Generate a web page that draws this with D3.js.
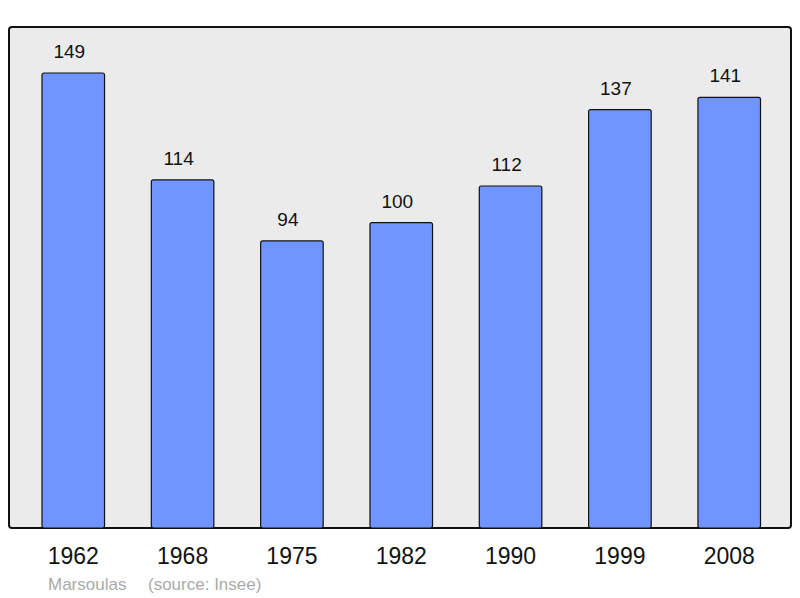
<!DOCTYPE html>
<html>
<head>
<meta charset="utf-8">
<script src="https://cdn.jsdelivr.net/npm/d3@7"></script>
<style>
  body { margin: 0; background: #fff; }
  text { font-family: "Liberation Sans", Arial, sans-serif; }
</style>
</head>
<body>
<div id="chart"></div>
<script>
// data
var years = ["1962", "1968", "1975", "1982", "1990", "1999", "2008"];
var population = [149, 114, 94, 100, 112, 137, 141];

var svgWidth = 800;
var svgHeight = 598;

// plot frame
var frame = { left: 9, top: 27, right: 791, bottom: 528 };

var svg = d3.select("#chart")
  .append("svg")
  .attr("width", svgWidth)
  .attr("height", svgHeight);

svg.append("rect")
  .attr("x", frame.left)
  .attr("y", frame.top)
  .attr("width", frame.right - frame.left)
  .attr("height", frame.bottom - frame.top)
  .attr("rx", 3)
  .attr("fill", "#ebebeb")
  .attr("stroke", "#111")
  .attr("stroke-width", 2);

// scales
var xScale = d3.scaleBand()
  .domain(years)
  .range([9.2, 793.3])
  .paddingInner(0.428)
  .paddingOuter(0.3);

var yScale = d3.scaleLinear()
  .domain([0, 149])
  .range([frame.bottom, 73]);

// bars
svg.selectAll(".bar")
  .data(population)
  .enter()
  .append("rect")
  .attr("class", "bar")
  .attr("x", (d, i) => xScale(years[i]))
  .attr("y", d => yScale(d))
  .attr("width", xScale.bandwidth())
  .attr("height", d => frame.bottom - yScale(d))
  .attr("rx", 2)
  .attr("fill", "#7095ff")
  .attr("stroke", "#111")
  .attr("stroke-width", 1.2);

// value labels (sit a little left of the bar centre, as in the original)
svg.selectAll(".val")
  .data(population)
  .enter()
  .append("text")
  .attr("class", "val")
  .attr("x", (d, i) => xScale(years[i]) + xScale.bandwidth() / 2 - 4)
  .attr("y", d => yScale(d) - 15)
  .attr("text-anchor", "middle")
  .attr("font-size", "19px")
  .attr("fill", "#111")
  .text(d => d);

// year axis (no line, just labels)
var xAxis = d3.axisBottom(xScale).tickSize(0).tickPadding(0);
var axisG = svg.append("g")
  .attr("transform", `translate(0, ${frame.bottom + 19})`)
  .call(xAxis);
axisG.select(".domain").remove();
axisG.selectAll("text")
  .attr("font-family", "Liberation Sans, Arial, sans-serif")
  .attr("font-size", "23px")
  .attr("fill", "#111")
  .attr("dy", "0.72em");

// footer
svg.append("text")
  .attr("x", 48)
  .attr("y", 590)
  .attr("font-size", "17px")
  .attr("fill", "#aaaaaa")
  .text("Marsoulas");

svg.append("text")
  .attr("x", 148)
  .attr("y", 590)
  .attr("font-size", "17px")
  .attr("fill", "#aaaaaa")
  .text("(source: Insee)");
</script>
</body>
</html>
